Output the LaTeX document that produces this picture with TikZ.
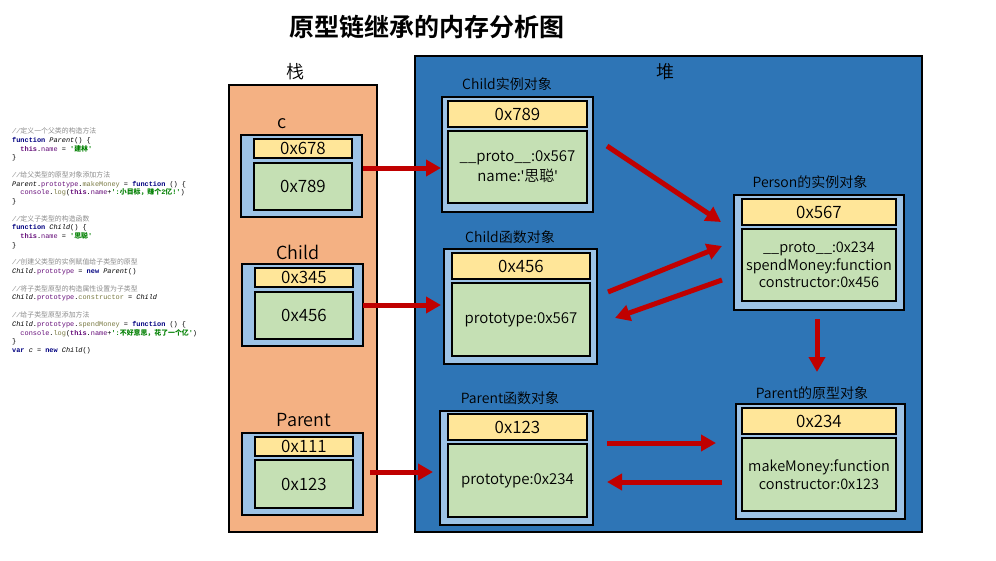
\documentclass[tikz,border=0pt]{standalone}
\usepackage{fontspec}
\setmainfont{Noto Sans CJK SC}[UprightFont=* DemiLight, BoldFont=* Bold]
\newfontfamily\cjkfont{Noto Sans CJK SC}
\newfontfamily\codefont{Liberation Mono}
\newfontfamily\latinq{Noto Sans}
\usetikzlibrary{arrows.meta}
\definecolor{stackc}{HTML}{F4B183}
\definecolor{heapc}{HTML}{2E75B6}
\definecolor{outerc}{HTML}{9DC3E6}
\definecolor{addrc}{HTML}{FFE699}
\definecolor{valc}{HTML}{C5E0B4}
\definecolor{arrowc}{HTML}{C00000}
\definecolor{cmtc}{HTML}{8C8C8C}
\definecolor{kwc}{HTML}{000080}
\definecolor{prc}{HTML}{660E7A}
\definecolor{mtc}{HTML}{7A7A43}
\definecolor{stc}{HTML}{008000}
\newcommand\zh[1]{{\cjkfont #1}}
\newcommand\ccm[1]{{\color{cmtc}\itshape #1}}
\newcommand\ckw[1]{{\color{kwc}\bfseries #1}}
\newcommand\cpr[1]{{\color{prc}#1}}
\newcommand\cthis{{\color{prc}\bfseries this}}
\newcommand\cmt[1]{{\color{mtc}#1}}
\newcommand\cst[1]{{\color{stc}\bfseries #1}}
\newcommand\cit[1]{{\itshape #1}}
\newcommand\cind{\hspace*{8.28pt}}
\tikzset{
  region/.style={draw=black, line width=1.2pt, inner sep=0pt, outer sep=0pt},
  objbox/.style={draw=black, fill=outerc, line width=1.2pt, inner sep=0pt, outer sep=0pt},
  addrbox/.style={draw=black, fill=addrc, line width=1.2pt, inner sep=0pt, outer sep=0pt, font=\fontsize{17}{20}\selectfont},
  valbox/.style={draw=black, fill=valc, line width=1.2pt, inner sep=0pt, outer sep=0pt, align=center},
  heapval/.style={valbox, font=\fontsize{15}{18}\selectfont},
  stackval/.style={valbox, font=\fontsize{17}{20}\selectfont},
  lbl/.style={font=\fontsize{14}{16}\selectfont, text=black, inner sep=0pt},
  stklbl/.style={font=\fontsize{18}{20}\selectfont, text=black, inner sep=0pt},
  ptr/.style={draw=arrowc, line width=5pt, -{Triangle[length=15pt,width=16pt]}},
  codeblk/.style={align=left, inner sep=0pt, font={\codefont\fontsize{6.9}{8.76}\selectfont}},
}
\begin{document}
\begin{tikzpicture}[x=1pt,y=-1pt]
\useasboundingbox (0,0) rectangle (996,560);
\fill[white] (0,0) rectangle (996,560);

% title
\node[font=\fontsize{25}{28}\selectfont\bfseries, inner sep=0pt] (title) at (427,27) {原型链继承的内存分析图};

% code
\node[codeblk, anchor=north west] (code) at (12,127.5) {%
\ccm{//\zh{定义一个父类的构造方法}}\\
\ckw{function} \cit{Parent}() \{\\
\cind\cthis.\cpr{name} = \cst{'\zh{建林}'}\\
\}\\[8.76pt]
\ccm{//\zh{给父类型的原型对象添加方法}}\\
\cit{Parent}.\cpr{prototype}.\cmt{makeMoney} = \ckw{function} () \{\\
\cind\cpr{console}.\cmt{log}(\cthis.\cpr{name}+\cst{':\zh{小目标，赚个}2\zh{亿}!'})\\
\}\\[8.76pt]
\ccm{//\zh{定义子类型的构造函数}}\\
\ckw{function} \cit{Child}() \{\\
\cind\cthis.\cpr{name} = \cst{'\zh{思聪}'}\\
\}\\[8.76pt]
\ccm{//\zh{创建父类型的实例赋值给子类型的原型}}\\
\cit{Child}.\cpr{prototype} = \ckw{new} \cit{Parent}()\\[8.76pt]
\ccm{//\zh{将子类型原型的构造属性设置为子类型}}\\
\cit{Child}.\cpr{prototype}.\cmt{constructor} = \cit{Child}\\[8.76pt]
\ccm{//\zh{给子类型原型添加方法}}\\
\cit{Child}.\cpr{prototype}.\cmt{spendMoney} = \ckw{function} () \{\\
\cind\cpr{console}.\cmt{log}(\cthis.\cpr{name}+\cst{':\zh{不好意思，花了一个亿}'})\\
\}\\
\ckw{var} \cit{c} = \ckw{new} \cit{Child}()};

% stack and heap regions
\node[region, fill=stackc, minimum width=148pt, minimum height=447pt] (stack) at (303,308.5) {};
\node[region, fill=heapc, minimum width=507pt, minimum height=476pt] (heap) at (668.5,294) {};
\node[stklbl] (stackT) at (295,72) {栈};
\node[stklbl] (heapT) at (665,72) {堆};

% stack entries
\node[stklbl] (cT) at (282,124) {c};
\node[objbox, minimum width=121pt, minimum height=82pt] (cO) at (301.5,176) {};
\node[addrbox, minimum width=98pt, minimum height=19pt] (cA) at (303,148.5) {0x678};
\node[stackval, minimum width=98pt, minimum height=47pt] (cV) at (303,186.5) {0x789};

\node[stklbl] (childT) at (298,252) {Child};
\node[objbox, minimum width=121pt, minimum height=82pt] (childO) at (302.5,305) {};
\node[addrbox, minimum width=98pt, minimum height=19pt] (childA) at (304,277.5) {0x345};
\node[stackval, minimum width=98pt, minimum height=47pt] (childV) at (304,315.5) {0x456};

\node[stklbl] (parentT) at (304,420) {Parent};
\node[objbox, minimum width=121pt, minimum height=82pt] (parentO) at (302.5,474) {};
\node[addrbox, minimum width=98pt, minimum height=19pt] (parentA) at (304,446.5) {0x111};
\node[stackval, minimum width=98pt, minimum height=48pt] (parentV) at (304,484) {0x123};

% heap objects
\node[lbl] (ciT) at (507,84) {Child实例对象};
\node[objbox, minimum width=151pt, minimum height=115pt] (ciO) at (517.5,154.5) {};
\node[addrbox, minimum width=139pt, minimum height=26pt] (ciA) at (517.5,114) {0x789};
\node[heapval, minimum width=139pt, minimum height=72pt, font=\fontsize{15}{20}\selectfont] (ciV) at (517.5,167) {\_\_proto\_\_:0x567\\name:{\latinq '}思聪{\latinq '}};

\node[lbl] (cfT) at (510,237) {Child函数对象};
\node[objbox, minimum width=153pt, minimum height=115pt] (cfO) at (520.5,306.5) {};
\node[addrbox, minimum width=138pt, minimum height=26pt] (cfA) at (521,266) {0x456};
\node[heapval, minimum width=138pt, minimum height=73pt] (cfV) at (521,319.5) {prototype:0x567};

\node[lbl] (pfT) at (510,398) {Parent函数对象};
\node[objbox, minimum width=153pt, minimum height=114pt] (pfO) at (516.5,468) {};
\node[addrbox, minimum width=139pt, minimum height=26pt] (pfA) at (517.5,427) {0x123};
\node[heapval, minimum width=139pt, minimum height=73pt] (pfV) at (517.5,480.5) {prototype:0x234};

\node[lbl] (piT) at (810,182) {Person的实例对象};
\node[objbox, minimum width=170pt, minimum height=115pt] (piO) at (819,252.5) {};
\node[addrbox, minimum width=154pt, minimum height=26pt] (piA) at (819,212) {0x567};
\node[heapval, minimum width=154pt, minimum height=72pt, font=\fontsize{14.5}{17.5}\selectfont] (piV) at (819,265) {\_\_proto\_\_:0x234\\spendMoney:function\\constructor:0x456};

\node[lbl] (ppT) at (812,393) {Parent的原型对象};
\node[objbox, minimum width=169pt, minimum height=115pt] (ppO) at (820.5,461.5) {};
\node[addrbox, minimum width=154pt, minimum height=26pt] (ppA) at (819,421) {0x234};
\node[heapval, minimum width=154pt, minimum height=73pt, font=\fontsize{14.5}{17.5}\selectfont] (ppV) at (819,474.5) {makeMoney:function\\constructor:0x123};

% arrow endpoints
\coordinate (p1s) at (363,168);  \coordinate (p1e) at (441,168);
\coordinate (p2s) at (363,305);  \coordinate (p2e) at (441,305);
\coordinate (p3s) at (370,472);  \coordinate (p3e) at (433,472);
\coordinate (p4s) at (607,146);  \coordinate (p4e) at (721,222);
\coordinate (p5s) at (608,292);  \coordinate (p5e) at (722,246);
\coordinate (p6s) at (722,280);  \coordinate (p6e) at (615,318);
\coordinate (p7s) at (817,319);  \coordinate (p7e) at (817,372);
\coordinate (p8s) at (607,443);  \coordinate (p8e) at (716,443);
\coordinate (p9s) at (722,482);  \coordinate (p9e) at (607,482);

\draw[ptr] (p1s) -- (p1e);
\draw[ptr] (p2s) -- (p2e);
\draw[ptr] (p3s) -- (p3e);
\draw[ptr] (p4s) -- (p4e);
\draw[ptr] (p5s) -- (p5e);
\draw[ptr] (p6s) -- (p6e);
\draw[ptr] (p7s) -- (p7e);
\draw[ptr] (p8s) -- (p8e);
\draw[ptr] (p9s) -- (p9e);
\end{tikzpicture}
\end{document}
